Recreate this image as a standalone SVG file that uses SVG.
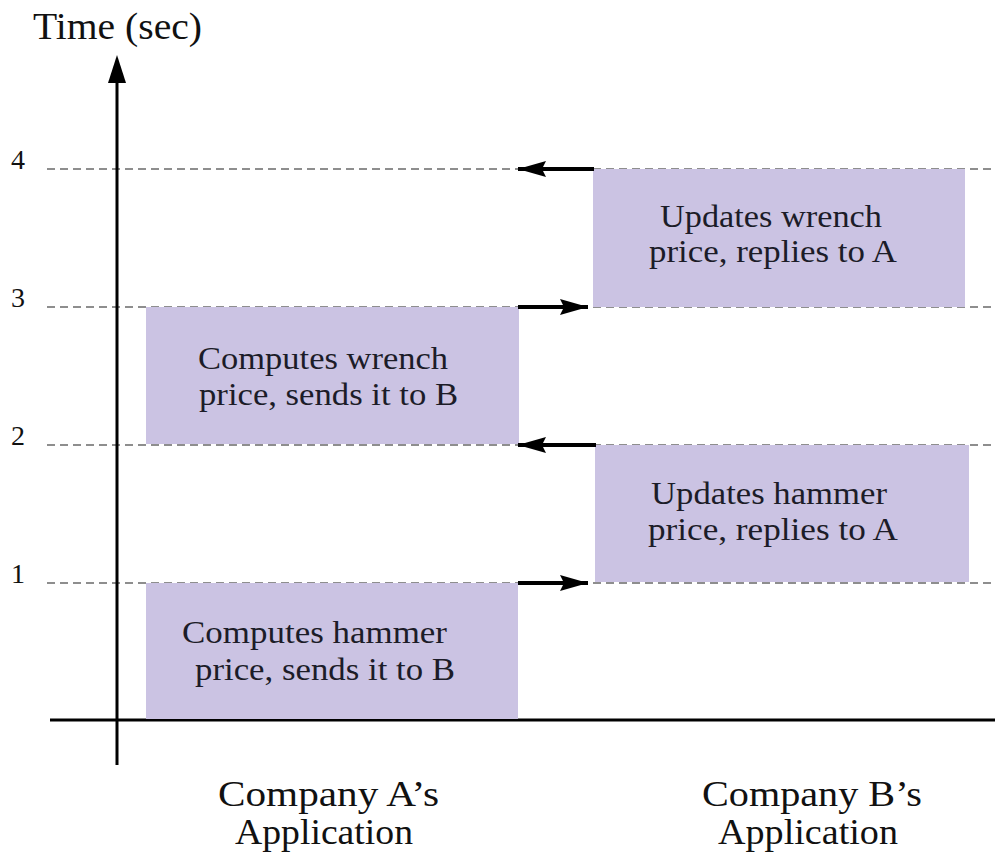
<svg xmlns="http://www.w3.org/2000/svg" width="995" height="858" viewBox="0 0 995 858">
<defs>
<style>
.t{font-family:"Liberation Serif","Times New Roman",serif;fill:#1c1c28}
.bt{font-size:32px}
.lab{font-size:35px;fill:#111}
.num{font-size:28px;fill:#111}
.box{fill:#cbc3e3}
.dash{stroke:#6a6a6a;stroke-width:1.6;stroke-dasharray:8 5;fill:none}
.axis{stroke:#000;stroke-width:3;fill:none}
.arr{stroke:#000;stroke-width:4;fill:none}
</style>
<marker id="head" viewBox="0 0 28 16" refX="28" refY="8" markerWidth="28" markerHeight="16" markerUnits="userSpaceOnUse" orient="auto">
<path d="M0,0 L28,8 L0,16 L4,8 z" fill="#000"/>
</marker>
</defs>
<rect width="995" height="858" fill="#fff"/>
<g id="gridlines">
<line class="dash" x1="47" y1="169" x2="995" y2="169"/>
<line class="dash" x1="47" y1="307" x2="995" y2="307"/>
<line class="dash" x1="47" y1="445" x2="995" y2="445"/>
<line class="dash" x1="47" y1="583" x2="995" y2="583"/>
</g>
<g id="axes">
<line class="axis" x1="117" y1="765" x2="117" y2="78"/>
<path d="M117,55 L126,83 L108,83 z" fill="#000"/>
<line class="axis" x1="50" y1="720" x2="995" y2="720"/>
<text class="t" x="33" y="39" font-size="37" textLength="169" lengthAdjust="spacingAndGlyphs" style="fill:#111">Time (sec)</text>
<text class="t num" x="18" y="169" text-anchor="middle">4</text>
<text class="t num" x="18" y="307" text-anchor="middle">3</text>
<text class="t num" x="18" y="445" text-anchor="middle">2</text>
<text class="t num" x="18" y="583" text-anchor="middle">1</text>
</g>
<g id="nodeA1">
<rect class="box" x="146" y="583" width="372" height="136"/>
<text class="t bt" x="182" y="643" textLength="265" lengthAdjust="spacingAndGlyphs">Computes hammer</text>
<text class="t bt" x="195" y="680" textLength="260" lengthAdjust="spacingAndGlyphs">price, sends it to B</text>
</g>
<g id="nodeA2">
<rect class="box" x="146" y="307" width="373" height="137"/>
<text class="t bt" x="198" y="369" textLength="250" lengthAdjust="spacingAndGlyphs">Computes wrench</text>
<text class="t bt" x="199" y="405" textLength="259" lengthAdjust="spacingAndGlyphs">price, sends it to B</text>
</g>
<g id="nodeB1">
<rect class="box" x="595" y="445" width="374" height="137"/>
<text class="t bt" x="651" y="504" textLength="236" lengthAdjust="spacingAndGlyphs">Updates hammer</text>
<text class="t bt" x="648" y="540" textLength="250" lengthAdjust="spacingAndGlyphs">price, replies to A</text>
</g>
<g id="nodeB2">
<rect class="box" x="593" y="169" width="372" height="138"/>
<text class="t bt" x="660" y="227" textLength="222" lengthAdjust="spacingAndGlyphs">Updates wrench</text>
<text class="t bt" x="649" y="262" textLength="248" lengthAdjust="spacingAndGlyphs">price, replies to A</text>
</g>
<g id="connectors">
<line class="arr" x1="594" y1="169" x2="518" y2="169" marker-end="url(#head)"/>
<line class="arr" x1="518" y1="307" x2="588" y2="307" marker-end="url(#head)"/>
<line class="arr" x1="596" y1="445" x2="518" y2="445" marker-end="url(#head)"/>
<line class="arr" x1="518" y1="583" x2="588" y2="583" marker-end="url(#head)"/>
</g>
<g id="labels">
<text class="t lab" x="218" y="806" textLength="221" lengthAdjust="spacingAndGlyphs">Company A’s</text>
<text class="t lab" x="235" y="844" textLength="178" lengthAdjust="spacingAndGlyphs">Application</text>
<text class="t lab" x="702" y="806" textLength="220" lengthAdjust="spacingAndGlyphs">Company B’s</text>
<text class="t lab" x="718" y="844" textLength="180" lengthAdjust="spacingAndGlyphs">Application</text>
</g>
</svg>
